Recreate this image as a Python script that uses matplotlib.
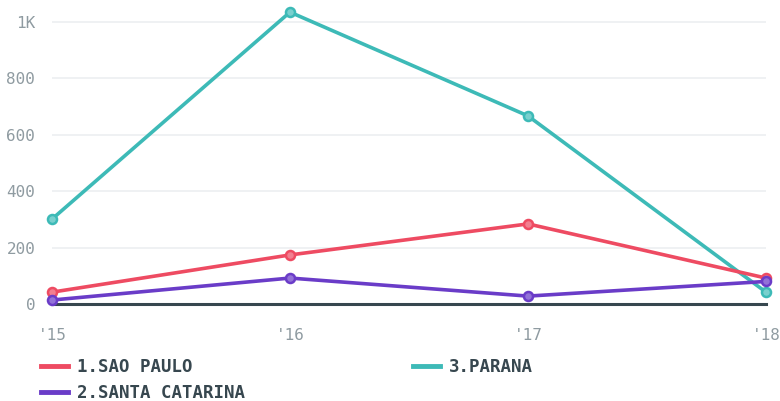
import matplotlib.pyplot as plt
from matplotlib.ticker import FuncFormatter
from matplotlib.lines import Line2D

years = ["'15", "'16", "'17", "'18"]
sao_paulo = [42, 174, 284, 92]
santa_catarina = [14, 92, 28, 80]
parana = [301, 1035, 667, 42]

series = [
    ("1.SAO PAULO", sao_paulo, "#ee4b62", "#f27f90"),
    ("2.SANTA CATARINA", santa_catarina, "#6a3cc8", "#9272d8"),
    ("3.PARANA", parana, "#3dbab7", "#79d0ce"),
]

plt.rcParams['font.family'] = ['DejaVu Sans Mono']

fig = plt.figure(figsize=(7.8, 4.01), dpi=100)
ax = fig.add_axes([52/780, 97/401, 714/780, 304/401])

x = list(range(len(years)))
# parana drawn first, then sao paulo, then santa catarina on top
for name, vals, col, light in [series[2], series[0], series[1]]:
    ax.plot(x, vals, color=col, lw=2.6, marker='o', ms=6.5, mew=1.8,
            mfc=light, mec=col, clip_on=False, zorder=3)

ax.axhline(0, color="#37474f", lw=2.2, zorder=2, clip_on=False)
ax.set_xlim(0, 3)
ax.set_ylim(0, 1078)
ax.set_yticks([0, 200, 400, 600, 800, 1000])
ax.yaxis.set_major_formatter(FuncFormatter(lambda v, p: "1K" if v == 1000 else f"{int(v)}"))
ax.set_xticks(x)
ax.set_xticklabels(years)
ax.grid(axis='y', color="#eceff1", lw=1.2, zorder=0)
for s in ax.spines.values():
    s.set_visible(False)
ax.tick_params(length=0, colors="#8f9ba1", labelsize=11.5)
ax.tick_params(axis='y', pad=12)
ax.tick_params(axis='x', pad=17)

leg_handles = [Line2D([], [], color=c, lw=3.5) for _, _, c, _ in series]
leg = fig.legend(leg_handles, [n for n, _, _, _ in series], ncol=2,
                 loc='upper left', bbox_to_anchor=(25/780, 1 - 342/401),
                 frameon=False, handlelength=1.6, handletextpad=0.5,
                 columnspacing=9.65, labelspacing=0.46,
                 prop={'weight': 'bold', 'size': 12.5})
for t in leg.get_texts():
    t.set_color("#37474f")

fig.savefig("out.png", dpi=100)
